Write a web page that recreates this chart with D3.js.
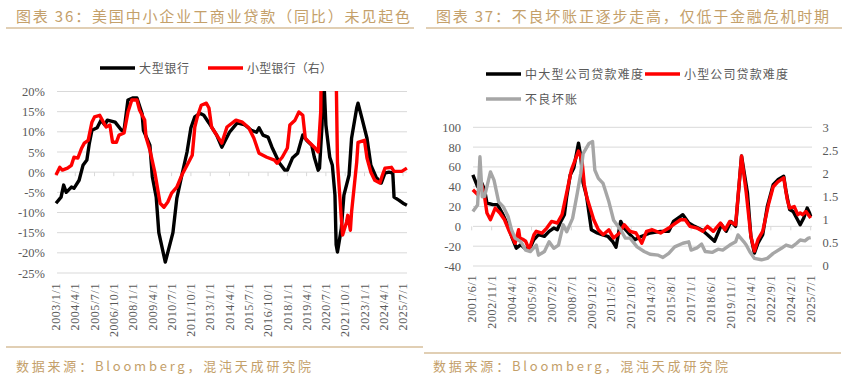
<!DOCTYPE html>
<html><head><meta charset="utf-8">
<script src="https://cdn.jsdelivr.net/npm/d3@7"></script>
<style>
html,body{margin:0;padding:0;background:#fff;}
svg{display:block;}
</style></head>
<body>
<svg id="c" width="847" height="379"></svg>
<script>
// ---------- DATA ----------
const leftTitle = "图表 36：美国中小企业工商业贷款（同比）未见起色";
const rightTitle = "图表 37：不良坏账正逐步走高，仅低于金融危机时期";
const sourceText = "数据来源：Bloomberg，混沌天成研究院";

const leftLegend = ["大型银行", "小型银行（右）"];
const rightLegend = ["中大型公司贷款难度", "小型公司贷款难度", "不良坏账"];

const leftTicks = ["2003/1/1","2004/4/1","2005/7/1","2006/10/1","2008/1/1","2009/4/1","2010/7/1","2011/10/1","2013/1/1","2014/4/1","2015/7/1","2016/10/1","2018/1/1","2019/4/1","2020/7/1","2021/10/1","2023/1/1","2024/4/1","2025/7/1"];
const rightTicks = ["2001/6/1","2002/11/1","2004/4/1","2005/9/1","2007/2/1","2008/7/1","2009/12/1","2011/5/1","2012/10/1","2014/3/1","2015/8/1","2017/1/1","2018/6/1","2019/11/1","2021/4/1","2022/9/1","2024/2/1","2025/7/1"];

const leftYTicks = [20,15,10,5,0,-5,-10,-15,-20,-25];
const rightYTicks = [100,80,60,40,20,0,-20,-40];
const rightY2Ticks = [3,2.5,2,1.5,1,0.5,0];

// 大型银行 (% yoy)
const largeBank = [["2003-01",-7.7],["2003-05",-6.2],["2003-07",-3.2],["2003-09",-5],["2004-01",-3.7],["2004-03",-4],["2004-07",-2],["2004-10",1.7],["2005-01",3],["2005-03",7.2],["2005-05",10.4],["2005-09",11],["2005-12",12.9],["2006-03",11.7],["2006-05",12.9],["2006-11",12.4],["2007-04",10.4],["2007-06",10.4],["2007-09",17.9],["2008-01",18.4],["2008-04",18.4],["2008-08",14.5],["2008-09",10.4],["2009-02",6.7],["2009-04",-1.2],["2009-07",-6.2],["2009-09",-15],["2010-02",-22.3],["2010-08",-15],["2010-11",-6.5],["2011-03",-0.7],["2011-07",5],["2011-10",11],["2012-01",13.7],["2012-05",14.6],["2012-08",14.1],["2012-12",12.2],["2013-06",9.2],["2013-10",6.2],["2014-04",9.9],["2014-10",12.2],["2015-04",11.7],["2015-09",10.4],["2016-01",9.9],["2016-03",11],["2016-06",9.2],["2016-10",8.7],["2017-01",6.2],["2017-05",3.5],["2017-07",2.2],["2017-11",0.5],["2018-01",0.5],["2018-05",3.5],["2018-09",4.7],["2019-01",9.2],["2019-04",7.9],["2019-08",6.7],["2019-10",3.7],["2020-01",0.5],["2020-02",1],["2020-04",11.7],["2020-05",26],["2020-07",11.7],["2020-10",3.7],["2020-12",1.7],["2021-02",-5.7],["2021-03",-18],["2021-04",-19.8],["2021-07",-14],["2021-09",-5.7],["2022-01",-0.7],["2022-03",8.4],["2022-07",15.9],["2022-08",17.1],["2022-11",13.4],["2023-03",8.4],["2023-06",1.7],["2023-10",-1.2],["2024-02",-2.7],["2024-05",-0.2],["2024-08",0],["2024-11",-0.2],["2024-12",-6.2],["2025-04",-7],["2025-07",-7.7],["2025-10",-8.2]];

// 小型银行 (% yoy, right axis)
const smallBank = [["2003-01",-0.7],["2003-04",1.2],["2003-06",0.5],["2003-10",1],["2004-01",1.7],["2004-03",3.7],["2004-06",3.5],["2004-09",6],["2004-11",7.2],["2005-02",7.9],["2005-05",12.4],["2005-07",13.7],["2005-11",14.1],["2006-01",12.9],["2006-04",11.2],["2006-07",11.7],["2006-09",7.4],["2006-12",7.4],["2007-02",9.2],["2007-06",9.7],["2007-09",14.9],["2007-12",17.9],["2008-04",17.9],["2008-06",15.4],["2008-10",12.9],["2008-11",8.7],["2009-02",5.5],["2009-06",-0.2],["2009-10",-7.7],["2010-01",-8.7],["2010-04",-7.4],["2010-07",-5.2],["2010-11",-3.7],["2011-03",-0.7],["2011-07",1.7],["2011-11",4.2],["2012-01",11.2],["2012-03",13.7],["2012-06",16.6],["2012-10",17.1],["2012-12",15.9],["2013-02",11.2],["2013-10",7.2],["2014-02",11.2],["2014-09",12.9],["2015-02",12.4],["2015-07",11],["2015-11",8.4],["2016-03",4.7],["2016-09",3.7],["2017-03",3],["2017-05",2.2],["2017-09",3.7],["2018-01",6],["2018-03",11.7],["2018-07",12.9],["2018-10",14.9],["2019-01",14.1],["2019-03",8.4],["2019-06",7.4],["2019-10",6.2],["2020-01",5],["2020-03",15],["2020-04",45],["2021-02",45],["2021-04",2.5],["2021-07",-11.4],["2021-08",-15.6],["2021-11",-12.4],["2021-12",-10.7],["2022-02",-14.4],["2022-03",-9.9],["2022-07",2.5],["2022-08",7.4],["2023-01",7.9],["2023-03",3.5],["2023-06",0],["2023-09",-2],["2024-01",-2.7],["2024-03",-0.7],["2024-05",1],["2024-10",1.2],["2024-12",0.2],["2025-06",0.2],["2025-10",1]];

// 中大型公司贷款难度
const largeFirm = [["2001-07",52],["2001-11",40],["2002-02",45],["2002-05",37],["2002-07",23.6],["2002-12",22],["2003-04",22],["2003-08",13.5],["2003-12",3.4],["2004-04",-10],["2004-08",-22],["2004-12",-18.5],["2005-03",-22],["2005-07",-23.5],["2005-11",-13.4],["2006-03",-8.4],["2006-08",-10],["2006-12",-5],["2007-04",-1.7],["2007-07",-3.4],["2007-10",5],["2008-01",11.8],["2008-03",30],["2008-06",52],["2008-09",59],["2009-01",84],["2009-03",71],["2009-05",44],["2009-08",30],["2009-12",-3.4],["2010-05",-6.7],["2010-09",-8.4],["2011-02",-10],["2011-06",-15],["2011-09",-21],["2012-01",5],["2012-04",-1.7],["2012-09",-8.4],["2013-01",-13.4],["2013-07",-10],["2014-02",-6.7],["2014-11",-5],["2015-06",-5],["2015-10",5],["2016-04",10],["2016-06",11.8],["2016-11",3.4],["2017-04",0],["2017-10",-3.4],["2018-03",-8.4],["2018-09",-15],["2019-03",1.7],["2019-07",-5],["2019-11",5],["2020-03",0],["2020-08",71],["2021-01",34],["2021-04",-10],["2021-07",-27],["2021-10",-17],["2022-02",-8.4],["2022-06",20],["2022-11",42],["2023-03",47],["2023-08",50.5],["2023-10",35],["2024-01",17],["2024-04",15],["2024-07",8.4],["2024-10",1.7],["2025-01",8.4],["2025-04",18.5],["2025-06",13.5],["2025-07",10]];

// 小型公司贷款难度
const smallFirm = [["2001-07",37],["2001-11",32],["2002-02",44],["2002-05",30],["2002-07",13.5],["2002-10",6.7],["2003-02",18.5],["2003-06",13.5],["2003-10",6.7],["2004-02",-5],["2004-07",-17],["2004-10",-3.4],["2004-11",-11.8],["2005-02",-13.4],["2005-04",-15],["2005-07",-23.5],["2005-11",-8.4],["2006-01",-5],["2006-06",-6.7],["2006-10",-1.7],["2007-02",5],["2007-07",3.4],["2007-11",11.8],["2008-03",34],["2008-07",57],["2009-01",76],["2009-04",67],["2009-06",42],["2009-08",30],["2010-02",6.7],["2010-06",-3.4],["2010-10",-8.4],["2011-03",-3.4],["2011-07",-11.8],["2011-12",-6.7],["2012-04",1.7],["2012-09",-5],["2013-02",-6.7],["2013-07",-17],["2013-11",-5],["2014-04",-3.4],["2014-11",-6.7],["2015-06",-1.7],["2015-10",1.7],["2016-04",6.7],["2016-08",6.7],["2016-12",0],["2017-06",-1.7],["2017-11",-5],["2018-03",0],["2018-08",-5],["2019-02",3.4],["2019-06",-3.4],["2019-10",5],["2020-03",1.7],["2020-08",71],["2020-12",34],["2021-04",-10],["2021-07",-25],["2021-10",-13.4],["2022-02",-5],["2022-07",22],["2022-11",40],["2023-03",45],["2023-08",49],["2023-11",27],["2024-01",18.5],["2024-05",20],["2024-08",11.8],["2024-10",13.5],["2024-12",11.8],["2025-03",15],["2025-06",10],["2025-07",8.4]];

// 不良坏账 (right axis)
const badDebt = [["2001-07",1.17],["2001-11",1.31],["2002-01",2.36],["2002-03",1.49],["2002-05",1.5],["2002-10",2.03],["2003-01",1.85],["2003-05",1.38],["2003-09",1.27],["2004-01",1.06],["2004-04",0.77],["2004-07",0.59],["2004-12",0.51],["2005-04",0.33],["2005-08",0.30],["2006-01",0.44],["2006-03",0.22],["2006-08",0.30],["2006-12",0.51],["2007-04",0.37],["2007-08",0.44],["2007-12",0.88],["2008-03",0.73],["2008-08",1.02],["2008-12",1.57],["2009-03",2.0],["2009-05",2.43],["2009-10",2.65],["2010-01",2.69],["2010-03",2.07],["2010-06",1.89],["2010-10",1.78],["2011-03",1.38],["2011-07",0.98],["2012-01",0.77],["2012-05",0.59],["2012-09",0.59],["2013-03",0.40],["2013-09",0.30],["2014-02",0.24],["2014-09",0.22],["2015-01",0.17],["2015-06",0.26],["2015-11",0.40],["2016-06",0.48],["2016-11",0.51],["2017-01",0.33],["2017-06",0.38],["2017-10",0.46],["2018-01",0.30],["2018-07",0.28],["2018-12",0.35],["2019-04",0.33],["2019-10",0.44],["2020-03",0.51],["2020-05",0.66],["2020-10",0.51],["2020-12",0.44],["2021-03",0.30],["2021-07",0.15],["2022-01",0.12],["2022-06",0.15],["2022-11",0.26],["2023-06",0.37],["2023-10",0.44],["2024-03",0.40],["2024-07",0.48],["2024-10",0.55],["2025-02",0.53],["2025-05",0.59],["2025-07",0.60]];

// ---------- DRAW ----------
const svg = d3.select("#c");
const pm = d3.timeParse("%Y-%m");
const pt = d3.timeParse("%Y/%m/%d");
const GOLD = "#c4a06a", GRID = "#d9d9d9", TXT = "#595959";
const CJK = "'Noto Sans CJK SC', sans-serif";
const SERIF = "'Liberation Serif', 'Times New Roman', serif";
const LW = 3.4;

function header(x0, x1, tx, tw, title) {
  svg.append("text").attr("x", tx).attr("y", 22).attr("font-family", CJK).attr("font-size", 15)
     .attr("fill", GOLD).attr("textLength", tw).attr("lengthAdjust", "spacing").text(title);
  svg.append("line").attr("x1", x0).attr("x2", x1).attr("y1", 28).attr("y2", 28)
     .attr("stroke", GOLD).attr("stroke-width", 1.2);
}
header(6, 414, 16, 394, leftTitle);
header(426, 842, 436, 393, rightTitle);
function footer(x0, x1, ly, tx) {
  svg.append("line").attr("x1", x0).attr("x2", x1).attr("y1", ly).attr("y2", ly)
     .attr("stroke", GOLD).attr("stroke-width", 1.2);
  svg.append("text").attr("x", tx).attr("y", 371).attr("font-family", CJK).attr("font-size", 13)
     .attr("fill", GOLD).attr("textLength", 295).attr("lengthAdjust", "spacing").text(sourceText);
}
footer(6, 423, 347, 16);
footer(424, 841, 353, 433);

function legendItem(x, y, color, label, tw) {
  svg.append("line").attr("x1", x).attr("x2", x + 35).attr("y1", y).attr("y2", y)
     .attr("stroke", color).attr("stroke-width", 3.5);
  const t = svg.append("text").attr("x", x + 39).attr("y", y + 4.5).attr("font-family", CJK)
     .attr("font-size", 12).attr("fill", TXT).text(label);
  if (tw) t.attr("textLength", tw).attr("lengthAdjust", "spacing");
}

// ===== Left chart =====
{
  const x = d3.scaleTime().domain([pt(leftTicks[0]), pt(leftTicks[leftTicks.length - 1])]).range([56, 403]);
  const y = d3.scaleLinear().domain([-25, 20]).range([273, 91.5]);
  const g = svg.append("g");
  g.selectAll("line.grid").data(leftYTicks).join("line")
    .attr("x1", 57).attr("x2", 407).attr("y1", d => y(d)).attr("y2", d => y(d))
    .attr("stroke", GRID).attr("stroke-width", 1);
  g.selectAll("text.yl").data(leftYTicks).join("text")
    .attr("x", 45).attr("y", d => y(d) + 4.5).attr("text-anchor", "end")
    .attr("font-family", SERIF).attr("font-size", 12.5).attr("fill", TXT).text(d => d + "%");
  g.selectAll("line.tk").data(leftTicks).join("line")
    .attr("x1", d => x(pt(d))).attr("x2", d => x(pt(d))).attr("y1", y(0)).attr("y2", y(0) + 4)
    .attr("stroke", GRID);
  g.selectAll("text.xl").data(leftTicks).join("text")
    .attr("transform", d => `translate(${x(pt(d))},283) rotate(-90)`)
    .attr("text-anchor", "end").attr("dy", "0.35em")
    .attr("font-family", SERIF).attr("font-size", 12).attr("letter-spacing", 0.6)
    .attr("fill", TXT).text(d => d);
  svg.append("clipPath").attr("id", "clipL").append("rect")
    .attr("x", 50).attr("y", 91).attr("width", 365).attr("height", 185);
  const line = d3.line().x(d => x(pm(d[0]))).y(d => y(d[1]));
  const lg = g.append("g").attr("clip-path", "url(#clipL)");
  lg.append("path").attr("d", line(largeBank)).attr("fill", "none").attr("stroke", "#000")
    .attr("stroke-width", LW).attr("stroke-linejoin", "round");
  lg.append("path").attr("d", line(smallBank)).attr("fill", "none").attr("stroke", "#ff0000")
    .attr("stroke-width", LW).attr("stroke-linejoin", "round");
  legendItem(100, 68, "#000", leftLegend[0], 50);
  legendItem(208, 68, "#ff0000", leftLegend[1], 85);
}

// ===== Right chart =====
{
  const x = d3.scaleTime().domain([pt(rightTicks[0]), pt(rightTicks[rightTicks.length - 1])]).range([471.7, 810.7]);
  const y = d3.scaleLinear().domain([-40, 100]).range([266, 127.3]);
  const y2 = d3.scaleLinear().domain([0, 3]).range([265.3, 127.3]);
  const g = svg.append("g");
  g.selectAll("line.grid").data(rightYTicks).join("line")
    .attr("x1", 473).attr("x2", 812).attr("y1", d => y(d)).attr("y2", d => y(d))
    .attr("stroke", GRID).attr("stroke-width", 1);
  g.selectAll("text.yl").data(rightYTicks).join("text")
    .attr("x", 461).attr("y", d => y(d) + 4.5).attr("text-anchor", "end")
    .attr("font-family", SERIF).attr("font-size", 12.5).attr("fill", TXT).text(d => d);
  g.selectAll("text.y2l").data(rightY2Ticks).join("text")
    .attr("x", 822.5).attr("y", d => y2(d) + 4.5).attr("text-anchor", "start")
    .attr("font-family", SERIF).attr("font-size", 12.5).attr("fill", TXT).text(d => d);
  g.selectAll("line.tk").data(rightTicks).join("line")
    .attr("x1", d => x(pt(d))).attr("x2", d => x(pt(d))).attr("y1", y(0)).attr("y2", y(0) + 4)
    .attr("stroke", GRID);
  g.selectAll("text.xl").data(rightTicks).join("text")
    .attr("transform", d => `translate(${x(pt(d))},275) rotate(-90)`)
    .attr("text-anchor", "end").attr("dy", "0.35em")
    .attr("font-family", SERIF).attr("font-size", 12).attr("letter-spacing", 0.6)
    .attr("fill", TXT).text(d => d);
  const line = d3.line().x(d => x(pm(d[0]))).y(d => y(d[1]));
  const line2 = d3.line().x(d => x(pm(d[0]))).y(d => y2(d[1]));
  g.append("path").attr("d", line(largeFirm)).attr("fill", "none").attr("stroke", "#000")
    .attr("stroke-width", LW).attr("stroke-linejoin", "round");
  g.append("path").attr("d", line(smallFirm)).attr("fill", "none").attr("stroke", "#ff0000")
    .attr("stroke-width", LW).attr("stroke-linejoin", "round");
  g.append("path").attr("d", line2(badDebt)).attr("fill", "none").attr("stroke", "#a6a6a6")
    .attr("stroke-width", LW).attr("stroke-linejoin", "round");
  legendItem(486, 74, "#000", rightLegend[0], 118);
  legendItem(645, 74, "#ff0000", rightLegend[1], 104);
  legendItem(486, 99, "#a6a6a6", rightLegend[2], 52);
}
</script>
</body></html>
